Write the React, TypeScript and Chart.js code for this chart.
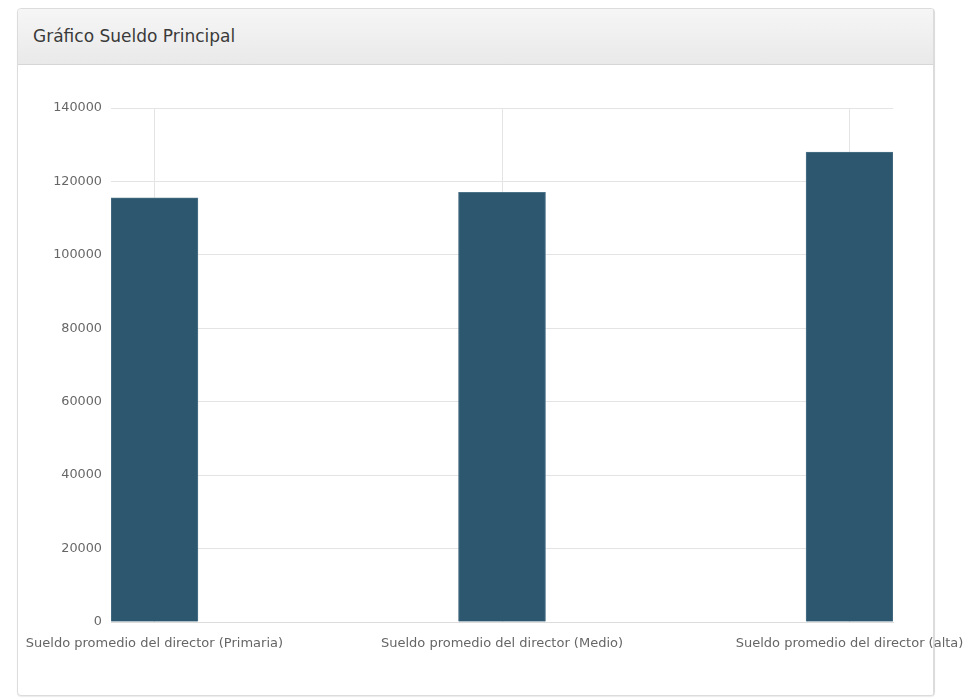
import React, { useEffect, useRef } from "react";
import { Chart, registerables } from "chart.js";

Chart.register(...registerables);

const categories = [
  "Sueldo promedio del director (Primaria)",
  "Sueldo promedio del director (Medio)",
  "Sueldo promedio del director (alta)",
];
const salaries = [115500, 117000, 128000];
const yTicks = [0, 20000, 40000, 60000, 80000, 100000, 120000, 140000];
const title = "Gráfico Sueldo Principal";

const FONT = "'DejaVu Sans', Arial, sans-serif";

export default function App() {
  const ref = useRef<HTMLCanvasElement | null>(null);

  useEffect(() => {
    if (!ref.current) return;
    const chart = new Chart(ref.current, {
      type: "bar",
      data: {
        datasets: [
          {
            data: salaries.map((v, i) => ({ x: i, y: v })),
            backgroundColor: "#2c576e",
            borderColor: "#4d7389",
            borderWidth: 1,
            barThickness: 87,
          },
        ],
      },
      options: {
        animation: false,
        responsive: false,
        maintainAspectRatio: false,
        layout: { padding: { top: 42, right: 85, left: 0, bottom: 0 } },
        plugins: { legend: { display: false }, tooltip: { enabled: false } },
        scales: {
          x: {
            type: "linear",
            offset: false,
            min: -0.125,
            max: categories.length - 1 + 0.125,
            afterBuildTicks: (scale: any) => {
              scale.ticks = categories.map((_, i) => ({ value: i }));
            },
            afterFit: (scale: any) => {
              scale.height = 68;
              scale.paddingLeft = 0;
              scale.paddingRight = 0;
            },
            grid: { color: "#e4e4e4", drawTicks: false, lineWidth: 1, offset: false },
            border: { color: "#dcdcdc" },
            ticks: {
              autoSkip: false,
              maxRotation: 0,
              minRotation: 0,
              padding: 14,
              color: "#666",
              font: { family: FONT, size: 13 },
              callback: (v: any) => categories[v as number] ?? "",
            },
          },
          y: {
            min: 0,
            max: 140000,
            afterBuildTicks: (scale: any) => {
              scale.ticks = yTicks.map((v) => ({ value: v }));
            },
            afterFit: (scale: any) => {
              scale.width = 94;
            },
            grid: { color: "#e4e4e4", drawTicks: false },
            border: { display: false },
            ticks: {
              padding: 9,
              color: "#666",
              font: { family: FONT, size: 12.8 },
              callback: (v: any) => String(v),
            },
          },
        },
      },
    } as any);
    return () => chart.destroy();
  }, []);

  return (
    <>
      <div
        style={{
          position: "absolute",
          left: 17,
          top: 8,
          width: 916,
          height: 686,
          border: "1px solid #dcdcdc",
          borderRadius: 4,
          boxShadow: "0 1px 1px rgba(0,0,0,0.08)",
          background: "#fff",
        }}
      />
      <div
        style={{
          position: "absolute",
          left: 18,
          top: 9,
          width: 916,
          height: 56,
          borderBottom: "1px solid #d6d6d6",
          borderRadius: "4px 4px 0 0",
          background: "linear-gradient(#f6f6f6, #e9e9e9)",
          boxSizing: "border-box",
          fontFamily: FONT,
          fontSize: 17,
          color: "#3a3a3a",
          paddingLeft: 15,
          lineHeight: "55px",
        }}
      >
        {title}
      </div>
      <canvas
        ref={ref}
        width={961}
        height={624}
        style={{ position: "absolute", left: 17, top: 66, width: 961, height: 624 }}
      />
      <div
        style={{
          position: "absolute",
          left: 933,
          top: 9,
          width: 1,
          height: 686,
          background: "#dcdcdc",
        }}
      />
    </>
  );
}
